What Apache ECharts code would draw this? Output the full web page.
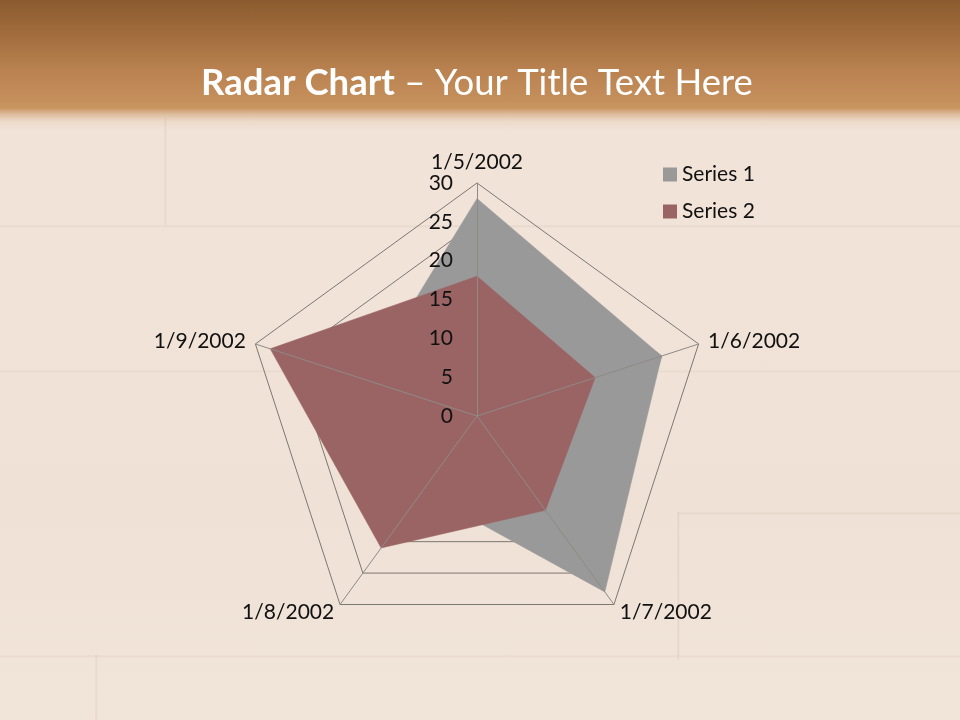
<!DOCTYPE html>
<html>
<head>
<meta charset="utf-8">
<script src="https://cdn.jsdelivr.net/npm/echarts@6/dist/echarts.min.js"></script>
<style>
  html, body { margin: 0; padding: 0; }
  body {
    width: 960px; height: 720px; overflow: hidden;
    background:
      linear-gradient(to right, transparent 164px, rgba(190,165,150,0.22) 165px, transparent 167px) 0 118px / 100% 107px no-repeat,
      linear-gradient(to bottom, transparent 0, rgba(200,180,165,0.25) 1px, transparent 3px) 0 225px / 100% 4px no-repeat,
      linear-gradient(to bottom, transparent 0, rgba(200,180,165,0.2) 1px, transparent 3px) 0 370px / 100% 4px no-repeat,
      linear-gradient(to bottom, transparent 0, rgba(200,180,165,0.22) 1px, transparent 3px) 678px 512px / 282px 4px no-repeat,
      linear-gradient(to right, transparent 0, rgba(200,180,165,0.3) 1px, transparent 3px) 677px 512px / 4px 148px no-repeat,
      linear-gradient(to bottom, transparent 0, rgba(200,180,165,0.22) 1px, transparent 3px) 0 655px / 100% 4px no-repeat,
      linear-gradient(to right, transparent 0, rgba(200,180,165,0.25) 1px, transparent 3px) 95px 655px / 4px 70px no-repeat,
      linear-gradient(to bottom, #8b5b2f 0px, #a26c3d 35px, #b98250 70px, #c58f5c 100px, #c8955f 108px, #dcbb9c 114px, #ecd9c9 121px, #f1e3d8 130px, #f1e3d8 300px, #efe1d5 500px, #f1e4d9 720px);
  }
  #chart { width: 960px; height: 720px; }
</style>
</head>
<body>
<div id="chart"></div>
<script>
// ---- data ----
var categories = ['1/5/2002', '1/6/2002', '1/7/2002', '1/8/2002', '1/9/2002'];
var series1 = [28, 25, 28, 12, 15];
var series2 = [18, 16, 15, 21, 28];
var seriesNames = ['Series 1', 'Series 2'];
var axisMax = 30;
var axisInterval = 5;

// ECharts radar runs counter-clockwise; the reference runs clockwise from top.
var order = [0, 4, 3, 2, 1];
function reorder(arr) { return order.map(function (i) { return arr[i]; }); }

var FONT = 'Lato, "Open Sans", sans-serif';
var grayFill = '#999999';
var redFill = '#9b6464';

var indicatorsBase = reorder(categories).map(function (c) { return { name: c, max: axisMax, min: 0 }; });
var indicatorsOverlay = reorder(categories).map(function (c, i) {
  var o = { name: c, max: axisMax, min: 0 };
  if (i === 0) o.axisLabel = { show: true };
  return o;
});

var chart = echarts.init(document.getElementById('chart'), null, { renderer: 'canvas' });
chart.setOption({
  backgroundColor: 'transparent',
  animation: false,
  title: {
    text: '{b|Radar Chart} – Your Title Text Here',
    left: 196,
    top: 60,
    textStyle: {
      color: '#ffffff', fontFamily: FONT, fontSize: 36.5, fontWeight: 'normal',
      rich: { b: { color: '#ffffff', fontFamily: FONT, fontSize: 36.5, fontWeight: 'bold' } }
    }
  },
  legend: {
    orient: 'vertical',
    left: 658,
    top: 159,
    icon: 'rect',
    itemWidth: 14,
    itemHeight: 14,
    itemGap: 16,
    data: seriesNames,
    textStyle: { color: '#111', fontFamily: FONT, fontSize: 21 }
  },
  radar: [
    {
      z: 1,
      center: [477, 416],
      radius: 233,
      startAngle: 90,
      shape: 'polygon',
      splitNumber: axisMax / axisInterval,
      indicator: indicatorsBase,
      axisName: { show: false },
      axisLine: { show: false },
      axisTick: { show: false },
      axisLabel: { show: false },
      splitArea: { show: false },
      splitLine: { show: true, lineStyle: { color: '#7d7772', width: 1 } }
    },
    {
      z: 5,
      center: [477, 416],
      radius: 233,
      startAngle: 90,
      shape: 'polygon',
      splitNumber: axisMax / axisInterval,
      indicator: indicatorsOverlay,
      nameGap: 10,
      axisName: { show: true, color: '#111', fontFamily: FONT, fontSize: 21 },
      axisLine: { show: true, lineStyle: { color: '#8e8a86', width: 1 } },
      axisTick: { show: false },
      axisLabel: { show: false, color: '#111', fontFamily: FONT, fontSize: 21, margin: 24 },
      splitArea: { show: false },
      splitLine: { show: false }
    }
  ],
  series: [{
    type: 'radar',
    radarIndex: 0,
    z: 2,
    symbol: 'none',
    data: [
      { name: seriesNames[0], value: reorder(series1),
        itemStyle: { color: grayFill },
        lineStyle: { color: grayFill, width: 0.5 },
        areaStyle: { color: grayFill, opacity: 1 } },
      { name: seriesNames[1], value: reorder(series2),
        itemStyle: { color: redFill },
        lineStyle: { color: redFill, width: 0.5 },
        areaStyle: { color: redFill, opacity: 1 } }
    ]
  }]
});
</script>
</body>
</html>
